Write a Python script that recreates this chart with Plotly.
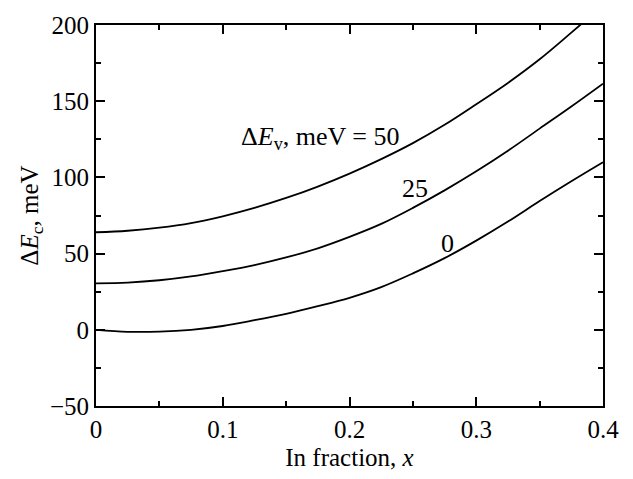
import plotly.graph_objects as go

x_in = [0, 0.025, 0.05, 0.075, 0.1, 0.125, 0.15, 0.175, 0.2, 0.225, 0.25, 0.275, 0.3, 0.325, 0.35, 0.375, 0.4]
ec_50 = [64, 65, 67, 70, 74.5, 80, 86.5, 94, 102.5, 112, 122.5, 134.5, 148, 162, 177.5, 195, 213]
ec_25 = [30.5, 31, 32.5, 35, 38.5, 42.5, 47.5, 53.5, 61, 69.5, 80, 91.5, 104, 117.5, 132, 146.5, 161.5]
ec_0 = [0, -1.3, -1.2, 0, 2.5, 6.3, 10.5, 15.5, 21, 28, 37, 47, 58.5, 71, 84.5, 97.5, 110]

labels = ["Δ<i>E</i><sub>v</sub>, meV = 50", "25", "0"]
label_x = [0.177, 0.2517, 0.2773]
label_y = [125.8, 92.8, 56.6]

FONT = "Liberation Serif, Times New Roman, Times, serif"
FS = 25

fig = go.Figure()
for ys in (ec_50, ec_25, ec_0):
    fig.add_trace(go.Scatter(x=x_in, y=ys, mode="lines",
                             line=dict(color="black", width=1.8, shape="spline", smoothing=1),
                             showlegend=False, hoverinfo="skip"))

for t, lx, ly in zip(labels, label_x, label_y):
    fig.add_annotation(x=lx, y=ly, text=t, showarrow=False,
                       font=dict(family=FONT, size=26, color="black"))

axis_common = dict(
    showline=True, linecolor="black", linewidth=2, mirror="allticks",
    ticks="inside", ticklen=9, tickwidth=1.5, tickcolor="black",
    showgrid=False, zeroline=False,
    tickfont=dict(family=FONT, size=FS, color="black"),
)

fig.update_xaxes(range=[0, 0.4], tickvals=[0, 0.1, 0.2, 0.3, 0.4],
                 ticktext=["0", "0.1", "0.2", "0.3", "0.4"],
                 minor=dict(ticks="inside", ticklen=5, tickwidth=1.5, tickcolor="black", dtick=0.05, tick0=0),
                 title=dict(text="In fraction, <i>x</i>", font=dict(family=FONT, size=FS, color="black"), standoff=6),
                 **axis_common)
fig.update_yaxes(range=[-50, 200], tickvals=[-50, 0, 50, 100, 150, 200],
                 minor=dict(ticks="inside", ticklen=5, tickwidth=1.5, tickcolor="black", dtick=25, tick0=0),
                 title=dict(text="Δ<i>E</i><sub>c</sub>, meV", font=dict(family=FONT, size=FS, color="black"), standoff=4),
                 **axis_common)

fig.update_layout(width=633, height=479, margin=dict(l=96, r=30, t=20, b=65),
                  plot_bgcolor="white", paper_bgcolor="white")

fig.write_html("out.html")
